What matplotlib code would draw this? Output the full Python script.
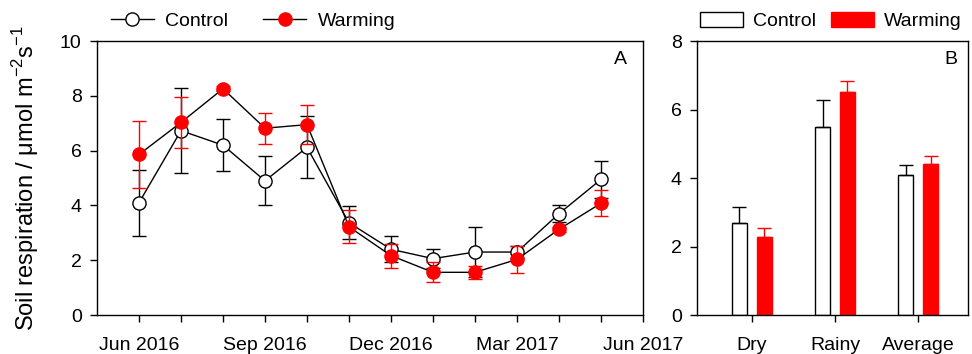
import matplotlib
matplotlib.use("Agg")
import matplotlib.pyplot as plt
from matplotlib.lines import Line2D
from matplotlib.patches import Patch
import numpy as np

plt.rcParams['font.family'] = ['Liberation Sans', 'DejaVu Sans']
plt.rcParams['mathtext.fontset'] = 'custom'
plt.rcParams['mathtext.rm'] = 'Liberation Sans'

# Panel A data (monthly, Jun 2016 - May 2017)
months = ["Jun 2016", "Jul 2016", "Aug 2016", "Sep 2016", "Oct 2016", "Nov 2016",
          "Dec 2016", "Jan 2017", "Feb 2017", "Mar 2017", "Apr 2017", "May 2017"]
control_mean = [4.10, 6.73, 6.20, 4.90, 6.12, 3.37, 2.40, 2.06, 2.30, 2.30, 3.70, 4.95]
control_err = [1.20, 1.55, 0.95, 0.90, 1.13, 0.60, 0.47, 0.36, 0.92, 0.22, 0.32, 0.67]
warming_mean = [5.86, 7.03, 8.26, 6.82, 6.95, 3.22, 2.17, 1.56, 1.56, 2.03, 3.13, 4.08]
warming_err = [1.23, 0.94, 0.10, 0.57, 0.72, 0.60, 0.44, 0.37, 0.24, 0.49, 0.10, 0.47]
xtick_labels = ["Jun 2016", "Sep 2016", "Dec 2016", "Mar 2017", "Jun 2017"]

# Panel B data
seasons = ["Dry", "Rainy", "Average"]
bar_control = [2.68, 5.49, 4.09]
bar_control_err = [0.47, 0.80, 0.28]
bar_warming = [2.28, 6.50, 4.40]
bar_warming_err = [0.26, 0.32, 0.25]

fig = plt.figure(figsize=(9.72, 3.54), dpi=100)
axA = fig.add_axes([0.0998, 0.110, 0.5617, 0.774])
axB = fig.add_axes([0.717, 0.110, 0.279, 0.774])

FS = 14
x = np.arange(1, len(months) + 1)
axA.errorbar(x, control_mean, yerr=control_err, fmt='-o', color='black',
             mfc='white', mec='black', ms=9.5, mew=1.0, lw=1.0,
             ecolor='black', elinewidth=1.0, capsize=5, capthick=1.0, zorder=2)
axA.errorbar(x, warming_mean, yerr=warming_err, fmt='-o', color='black',
             mfc='red', mec='red', ms=9.5, mew=1.0, lw=1.0,
             ecolor='red', elinewidth=1.0, capsize=5, capthick=1.0, zorder=3)
axA.set_xlim(0, 13)
axA.set_ylim(0, 10)
axA.set_xticks(np.arange(1, 14))
labels = [''] * 13
for i, lab in zip([0, 3, 6, 9, 12], xtick_labels):
    labels[i] = lab
axA.set_xticklabels(labels)
axA.set_yticks([0, 2, 4, 6, 8, 10])
axA.tick_params(axis='both', direction='out', labelsize=FS, length=5, width=1,
                top=False, right=False, pad=6)
axA.tick_params(axis='x', pad=11)
axA.set_ylabel('Soil respiration / μmol m$^{-2}$s$^{-1}$', fontsize=17, labelpad=14)
axA.text(0.97, 0.965, 'A', transform=axA.transAxes, ha='right', va='top', fontsize=FS)

hA = [Line2D([], [], color='black', lw=1.0, marker='o', mfc='white', mec='black', ms=9.5),
      Line2D([], [], color='black', lw=1.0, marker='o', mfc='red', mec='red', ms=9.5)]
fig.legend(hA, ['Control', 'Warming'], loc='center left',
           bbox_to_anchor=(0.114, 0.941), bbox_transform=fig.transFigure,
           ncol=2, frameon=False, fontsize=FS, handlelength=2.2, columnspacing=1.8,
           borderaxespad=0, borderpad=0, handletextpad=0.6)

xb = np.arange(len(seasons))
w = 0.18
axB.bar(xb - 0.15, bar_control, width=w, color='white', edgecolor='black', lw=1.0, zorder=2)
axB.errorbar(xb - 0.15, bar_control, yerr=[np.zeros(3), bar_control_err], fmt='none',
             ecolor='black', elinewidth=1.0, capsize=5, capthick=1.0, zorder=3)
axB.bar(xb + 0.15, bar_warming, width=w, color='red', edgecolor='red', lw=1.0, zorder=2)
axB.errorbar(xb + 0.15, bar_warming, yerr=[np.zeros(3), bar_warming_err], fmt='none',
             ecolor='red', elinewidth=1.0, capsize=5, capthick=1.0, zorder=3)
axB.set_xlim(-0.66, 2.6)
axB.set_ylim(0, 8)
axB.set_yticks([0, 2, 4, 6, 8])
axB.set_xticks(xb)
axB.set_xticklabels(seasons)
axB.tick_params(axis='both', direction='out', labelsize=FS, length=5, width=1, pad=6)
axB.tick_params(axis='x', pad=11)
axB.text(0.96, 0.965, 'B', transform=axB.transAxes, ha='right', va='top', fontsize=FS)

hB = [Patch(facecolor='white', edgecolor='black', lw=1.0),
      Patch(facecolor='red', edgecolor='red', lw=1.0)]
fig.legend(hB, ['Control', 'Warming'], loc='center left',
           bbox_to_anchor=(0.720, 0.941), bbox_transform=fig.transFigure,
           ncol=2, frameon=False, fontsize=FS, handlelength=2.2, handleheight=0.8,
           columnspacing=0.75, borderaxespad=0, borderpad=0, handletextpad=0.55)

for ax in (axA, axB):
    for s in ax.spines.values():
        s.set_linewidth(1.0)

fig.savefig('out.png', dpi=100)
